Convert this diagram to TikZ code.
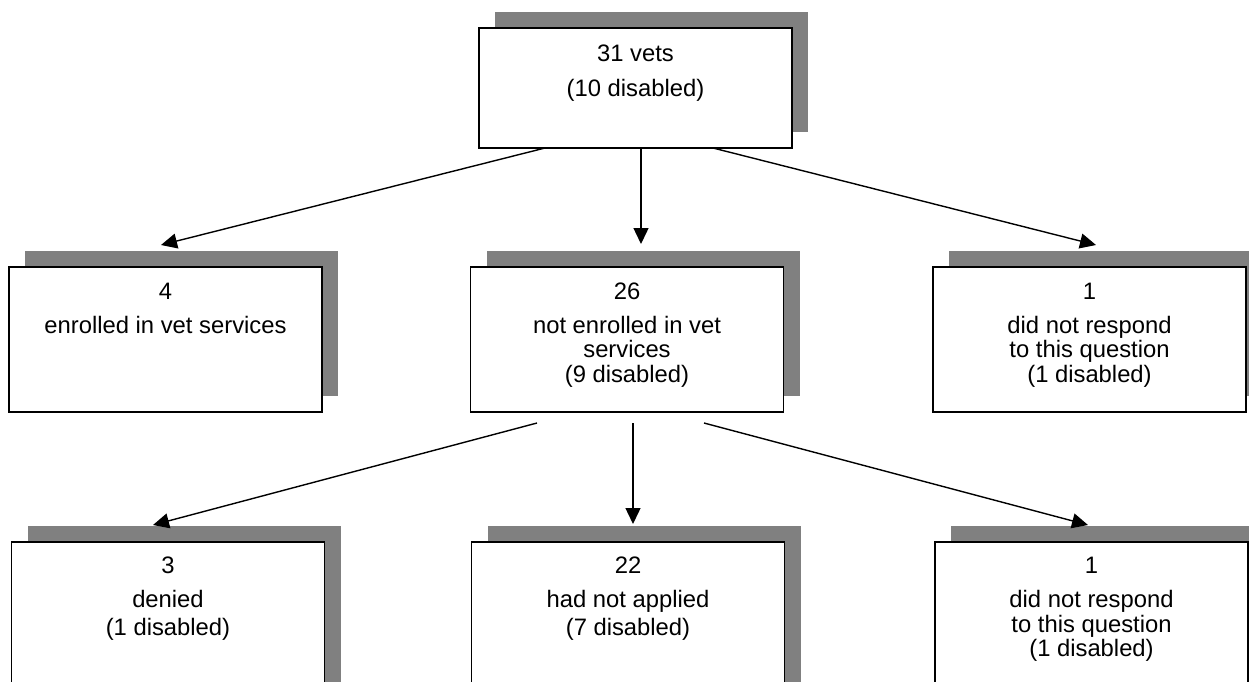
\documentclass[tikz,border=0pt]{standalone}
\usepackage{fontspec}
\setmainfont{Liberation Sans}
\usetikzlibrary{shadows,arrows.meta}
\definecolor{shadowgray}{HTML}{808080}
\tikzset{
  box/.style={draw=black, line width=1.8pt, fill=white, inner sep=0pt, outer sep=0pt,
    minimum width=313pt, rectangle,
    general shadow={fill=shadowgray, shadow xshift=16pt, shadow yshift=16pt}},
  lbl/.style={anchor=north, inner sep=0pt, align=center,
    font=\fontsize{23.8}{24.5}\selectfont},
  conn/.style={line width=1.4pt, -{Triangle[length=16pt,width=15pt]}}
}
\newcommand{\fs}{\rule{0pt}{20pt}}
\begin{document}
\begin{tikzpicture}[x=1pt,y=-1pt]
\useasboundingbox (0,0) rectangle (1249,681);
\clip (0,0) rectangle (1249,681);
% boxes
\node[box, minimum height=120pt] (top) at (635.5,88) {};
\node[box, minimum height=145pt] (l1) at (165.5,339.5) {};
\node[box, minimum height=145pt] (m1) at (627,339.5) {};
\node[box, minimum height=145pt] (r1) at (1089.5,339.5) {};
\node[box, minimum height=158pt] (l2) at (168,621) {};
\node[box, minimum height=158pt] (m2) at (628,621) {};
\node[box, minimum height=158pt] (r2) at (1091.5,621) {};
% labels
\node[lbl] (ttop) at (635.5,41) {\fs 31 vets\\[11pt](10 disabled)};
\node[lbl] (tl1) at (165.5,279) {\fs 4\\[9.5pt]enrolled in vet services};
\node[lbl] (tm1) at (627,279) {\fs 26\\[9.5pt]not enrolled in vet\\services\\(9 disabled)};
\node[lbl] (tr1) at (1089.5,279) {\fs 1\\[9.5pt]did not respond\\to this question\\(1 disabled)};
\node[lbl] (tl2) at (168,553) {\fs 3\\[10pt]denied\\[3.5pt](1 disabled)};
\node[lbl] (tm2) at (628,553) {\fs 22\\[10pt]had not applied\\[3.5pt](7 disabled)};
\node[lbl] (tr2) at (1091.5,553) {\fs 1\\[10pt]did not respond\\to this question\\(1 disabled)};
% connector ends
\coordinate (s1) at (545,148);
\coordinate (s2) at (641,148);
\coordinate (s3) at (713,148);
\coordinate (e1) at (161,245);
\coordinate (e2) at (641,244);
\coordinate (e3) at (1096,245);
\coordinate (u1) at (537,423);
\coordinate (u2) at (633,423);
\coordinate (u3) at (704,423);
\coordinate (f1) at (153,525);
\coordinate (f2) at (633,524);
\coordinate (f3) at (1088,525);
\draw[conn] (s1) -- (e1);
\draw[conn] (s2) -- (e2);
\draw[conn] (s3) -- (e3);
\draw[conn] (u1) -- (f1);
\draw[conn] (u2) -- (f2);
\draw[conn] (u3) -- (f3);
\end{tikzpicture}
\end{document}
